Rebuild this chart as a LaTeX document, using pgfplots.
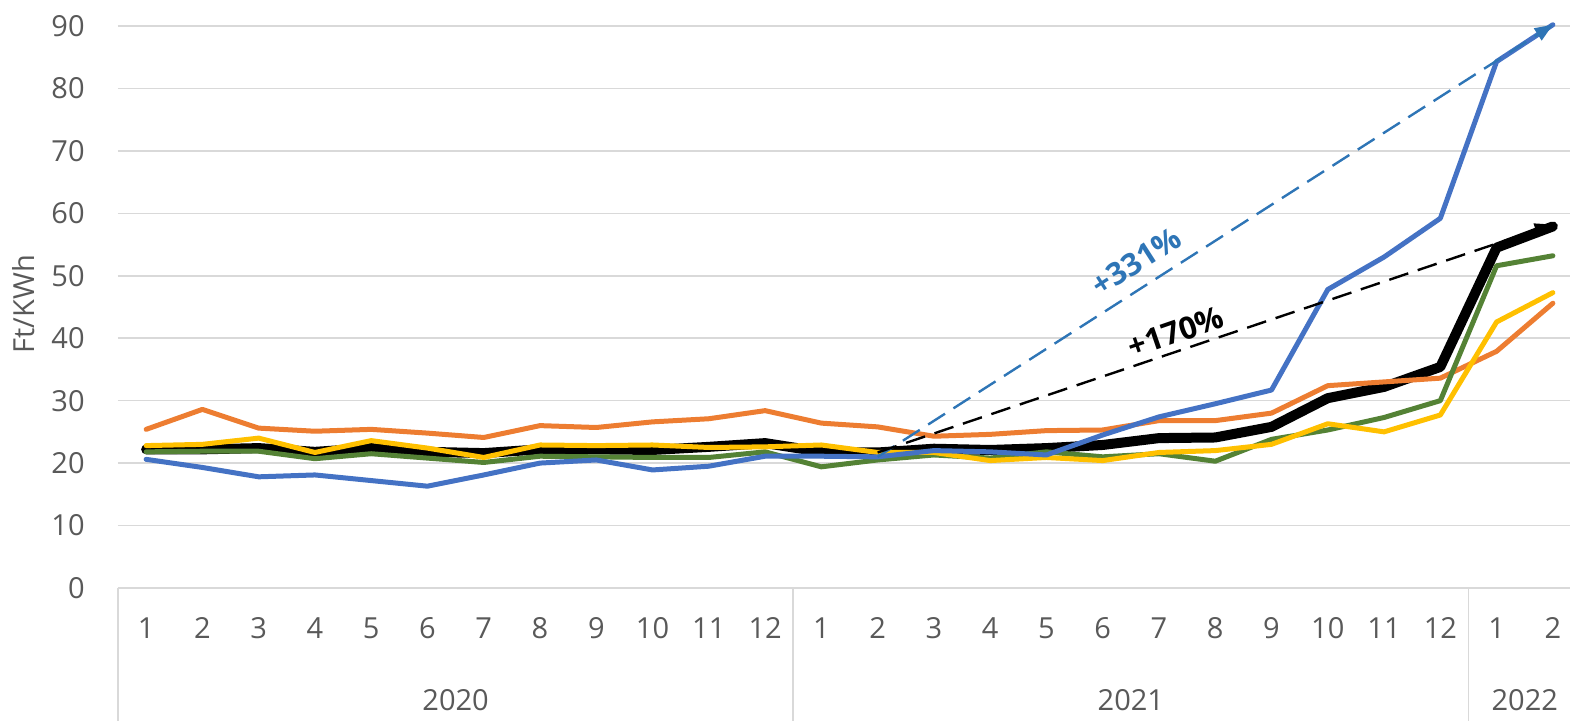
\documentclass[border=0pt]{standalone}
\usepackage{pgfplots}
\pgfplotsset{compat=1.18}
\usepackage{fontspec}
\setmainfont{Open Sans}
\usetikzlibrary{arrows.meta}
\definecolor{cblue}{HTML}{4472C4}
\definecolor{corange}{HTML}{ED7D31}
\definecolor{cgreen}{HTML}{548235}
\definecolor{cyellow}{HTML}{FFC000}
\definecolor{cdash}{HTML}{2E75B6}
\definecolor{gridgray}{HTML}{D9D9D9}
\definecolor{txtgray}{HTML}{595959}
\begin{document}
\begin{tikzpicture}
\begin{axis}[
  scale only axis, width=731.5pt, height=281pt,
  xmin=0.5, xmax=26.5, ymin=0, ymax=90,
  ytick={0,10,...,90},
  xtick={1,...,26},
  xticklabels={1,2,3,4,5,6,7,8,9,10,11,12,1,2,3,4,5,6,7,8,9,10,11,12,1,2},
  axis line style={draw=none},
  major tick length=0pt,
  ymajorgrids, grid style={color=gridgray, line width=0.75pt},
  clip=false,
  /pgf/number format/assume math mode=true,
  tick label style={font=\fontsize{14.5}{17}\selectfont, text=txtgray},
  x tick label style={anchor=center, yshift=-20pt},
  y tick label style={anchor=east, inner sep=0pt, xshift=-16.5pt},
  every axis plot/.append style={line join=round, line cap=round},
]
\coordinate (SW) at (rel axis cs:0,0);
\coordinate (NE) at (rel axis cs:1,1);
\coordinate (S1) at (axis cs:0.5,0);
\coordinate (S2) at (axis cs:12.5,0);
\coordinate (S3) at (axis cs:24.5,0);
\coordinate (Y1) at (axis cs:6.5,0);
\coordinate (Y2) at (axis cs:18.5,0);
\coordinate (Y3) at (axis cs:25.5,0);
\coordinate (YL) at (rel axis cs:0,0.505);

% black (average)
\addplot[black, line width=5pt] coordinates {
(1,22.2)(2,22.2)(3,22.4)(4,21.8)(5,22.4)(6,21.8)(7,21.6)(8,22.2)(9,22.2)(10,22.1)(11,22.6)(12,23.2)
(13,21.8)(14,21.7)(15,22.3)(16,22.1)(17,22.4)(18,22.9)(19,24.0)(20,24.1)(21,25.8)(22,30.4)(23,32.2)(24,35.4)
(25,54.5)(26,57.9)};
% orange
\addplot[corange, line width=2.5pt] coordinates {
(1,25.4)(2,28.6)(3,25.6)(4,25.1)(5,25.4)(6,24.8)(7,24.1)(8,26.0)(9,25.7)(10,26.6)(11,27.1)(12,28.4)
(13,26.4)(14,25.8)(15,24.3)(16,24.6)(17,25.2)(18,25.3)(19,26.8)(20,26.8)(21,28.0)(22,32.4)(23,33.0)(24,33.6)
(25,37.9)(26,45.6)};
% green
\addplot[cgreen, line width=2.5pt] coordinates {
(1,21.8)(2,21.9)(3,21.9)(4,20.7)(5,21.5)(6,20.8)(7,20.1)(8,21.1)(9,21.0)(10,20.9)(11,20.9)(12,21.8)
(13,19.4)(14,20.5)(15,21.3)(16,20.8)(17,21.8)(18,21.0)(19,21.5)(20,20.3)(21,23.8)(22,25.3)(23,27.3)(24,30.0)
(25,51.6)(26,53.2)};
% yellow
\addplot[cyellow, line width=2.5pt] coordinates {
(1,22.8)(2,23.0)(3,24.0)(4,21.7)(5,23.6)(6,22.4)(7,20.9)(8,22.9)(9,22.8)(10,22.9)(11,22.5)(12,22.6)
(13,22.9)(14,21.7)(15,21.7)(16,20.4)(17,20.9)(18,20.4)(19,21.7)(20,22.0)(21,23.0)(22,26.3)(23,25.0)(24,27.7)
(25,42.6)(26,47.3)};
% blue
\addplot[cblue, line width=2.5pt] coordinates {
(1,20.6)(2,19.3)(3,17.8)(4,18.1)(5,17.2)(6,16.3)(7,18.1)(8,20.0)(9,20.5)(10,18.9)(11,19.5)(12,21.1)
(13,21.1)(14,21.0)(15,22.0)(16,21.8)(17,21.3)(18,24.5)(19,27.4)(20,29.5)(21,31.7)(22,47.8)(23,53.0)(24,59.2)
(25,84.3)(26,90.2)};
% dashed trend arrows
\addplot[cdash, line width=1.2pt, dash pattern=on 10pt off 5pt, line cap=butt,
  -{Triangle[length=9pt,width=7pt]}] coordinates {(14,21.0)(26,90.2)};
\addplot[black, line width=1.2pt, dash pattern=on 10pt off 5pt, line cap=butt,
  -{Triangle[length=9pt,width=7pt]}] coordinates {(14,21.7)(26,58.2)};
\node[rotate=32.7, text=cdash, font=\bfseries\fontsize{15.5}{18}\selectfont] at (axis cs:18.6,52.3) {+331\%};
\node[rotate=19, text=black, font=\bfseries\fontsize{15.5}{18}\selectfont] at (axis cs:19.3,41.0) {+170\%};
\end{axis}
% category axis separators and year labels
\draw[gridgray, line width=0.75pt] (S1) -- ([yshift=-66.5pt]S1);
\draw[gridgray, line width=0.75pt] (S2) -- ([yshift=-66.5pt]S2);
\draw[gridgray, line width=0.75pt] (S3) -- ([yshift=-66.5pt]S3);
\draw[gridgray, line width=0.75pt] (S1) -- ([xshift=10pt]NE |- S1);
\node[font=\fontsize{14.5}{17}\selectfont, text=txtgray] at ([yshift=-56pt]Y1) {2020};
\node[font=\fontsize{14.5}{17}\selectfont, text=txtgray] at ([yshift=-56pt]Y2) {2021};
\node[font=\fontsize{14.5}{17}\selectfont, text=txtgray] at ([yshift=-56pt]Y3) {2022};
\node[rotate=90, font=\fontsize{14.5}{17}\selectfont, text=txtgray] at ([xshift=-47pt]YL) {Ft/KWh};
\pgfresetboundingbox
\path[use as bounding box] ([xshift=-59pt,yshift=-66.5pt]SW) rectangle ([xshift=-5.5pt,yshift=13pt]NE);
\end{tikzpicture}
\end{document}
